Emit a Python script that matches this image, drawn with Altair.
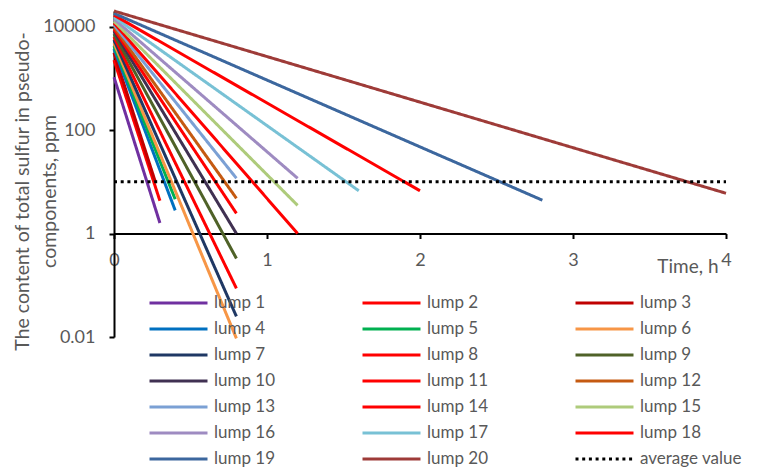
import altair as alt
import pandas as pd

lumps = [f"lump {i}" for i in range(1, 21)]
avg_name = "average value"
series = lumps + [avg_name]

start_values = [1050, 2250, 3100, 3700, 4200, 4800, 5500, 6300, 7200, 8200,
                8900, 9800, 10700, 11700, 12700, 14000, 15300, 16600, 18000, 20000]
end_times = [0.3, 0.3, 0.27, 0.4, 0.4, 0.8, 0.8, 0.8, 0.8, 0.8,
             0.8, 0.8, 0.8, 1.2, 1.2, 1.2, 1.6, 2.0, 2.8, 4.0]
end_values = [1.6, 4.3, 10, 2.8, 4.6, 0.0094, 0.025, 0.087, 0.33, 1.0,
              2.45, 4.8, 11.7, 1.0, 3.5, 11.7, 6.7, 6.7, 4.4, 6.0]
average_value = 10
average_times = [0, 4]

colors = ["#7030A0", "#FF0000", "#C00000", "#0070C0", "#00B050", "#F79646",
          "#1F3864", "#FF0000", "#4F6228", "#403152", "#FF0000", "#C55A11",
          "#7BA0D4", "#FF0000", "#AECB7B", "#9E8BC1", "#78C1D5", "#FF0000",
          "#3C679E", "#9E3B38", "#000000"]
dashes = [[1, 0]] * 20 + [[3, 3.7]]

x_ticks = [0, 1, 2, 3, 4]
y_ticks = [0.01, 1, 100, 10000]

rows = []
for name, s, t, e in zip(lumps, start_values, end_times, end_values):
    rows.append({"series": name, "time": 0, "value": s})
    rows.append({"series": name, "time": t, "value": e})
for t in average_times:
    rows.append({"series": avg_name, "time": t, "value": average_value})
df = pd.DataFrame(rows)

FONT = "Lato"
GREY = "#595959"

legend = alt.Legend(
    title=None, orient="none", legendX=34, legendY=282, columns=3,
    direction="horizontal", clipHeight=20,
    symbolType="stroke", symbolSize=3364, symbolStrokeWidth=3,
    labelFont=FONT, labelFontSize=17, labelColor=GREY, labelOffset=5,
    columnPadding=45, rowPadding=6, gridAlign="all", padding=0,
)

chart = alt.Chart(df).mark_line(strokeWidth=3, clip=False).encode(
    x=alt.X("time:Q", scale=alt.Scale(domain=[0, 4], nice=False, zero=False),
            axis=alt.Axis(values=x_ticks, title="Time, h", offset=-103.5,
                          grid=False, domainColor="black", domainWidth=2,
                          tickColor="black", tickWidth=2, tickSize=5,
                          labelFont=FONT, labelFontSize=18, labelColor=GREY,
                          labelPadding=13, labelFlush=False,
                          titleFont=FONT, titleFontSize=19, titleColor=GREY,
                          titleFontWeight="normal", titleAlign="right",
                          titleAnchor="end", titleX=604, titleY=39,
                          titleBaseline="alphabetic")),
    y=alt.Y("value:Q", scale=alt.Scale(type="log", domain=[0.01, 20000], nice=False),
            axis=alt.Axis(values=y_ticks, format="~g",
                          title=["The content of total sulfur in pseudo-", "components, ppm"],
                          grid=False, domainColor="black", domainWidth=2,
                          tickColor="black", tickWidth=2, tickSize=5,
                          labelFont=FONT, labelFontSize=18, labelColor=GREY,
                          labelPadding=14,
                          titleFont=FONT, titleFontSize=19.5, titleColor=GREY,
                          titleFontWeight="normal", titleAngle=270,
                          titleAlign="center", titleBaseline="top",
                          titleX=-101, titleY=180, titleLineHeight=27)),
    color=alt.Color("series:N", scale=alt.Scale(domain=series, range=colors),
                    sort=series, legend=legend),
    strokeDash=alt.StrokeDash("series:N", scale=alt.Scale(domain=series, range=dashes),
                              sort=series, legend=legend),
    detail="series:N",
).properties(
    width=612, height=326,
    autosize=alt.AutoSizeParams(type="none"),
    padding={"left": 106, "top": 3, "right": 24, "bottom": 131},
).configure_view(stroke=None)

chart.save("out.html", embed_options={"renderer": "svg", "actions": False})
